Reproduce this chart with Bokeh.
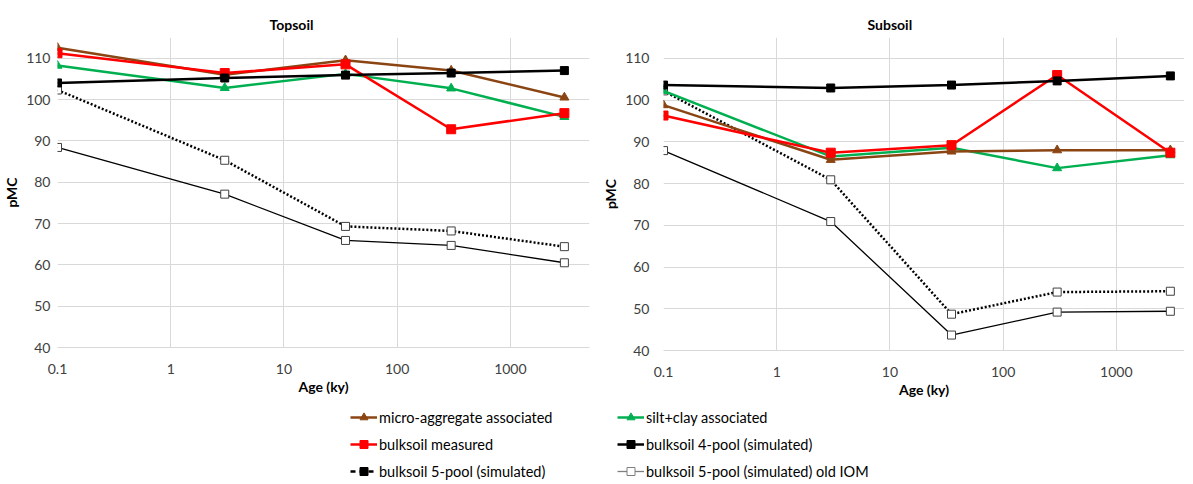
from bokeh.plotting import figure
from bokeh.models import Range1d, FixedTicker, Legend, LegendItem
from bokeh.layouts import column, row
from bokeh.embed import file_html
from bokeh.resources import INLINE

# ---------------- data ----------------
age = [0.1, 3, 35, 300, 3000]

top_micro = [112.5, 106.0, 109.5, 107.0, 100.5]
top_silt = [108.2, 102.8, 106.2, 102.7, 95.8]
top_bulk = [111.2, 106.4, 108.5, 92.8, 96.7]
top_pool4 = [104.0, 105.2, 105.9, 106.4, 107.0]
top_pool5 = [102.3, 85.3, 69.3, 68.2, 64.4]
top_iom = [88.4, 77.1, 65.9, 64.7, 60.5]

sub_micro = [98.8, 85.7, 87.7, 88.0, 88.0]
sub_silt = [102.2, 86.5, 88.6, 83.7, 86.8]
sub_bulk = [96.3, 87.4, 89.2, 106.0, 87.4]
sub_pool4 = [103.6, 102.9, 103.6, 104.6, 105.8]
sub_pool5 = [102.2, 80.9, 48.7, 54.0, 54.2]
sub_iom = [87.9, 70.9, 43.7, 49.2, 49.4]

series_names = [
    "micro-aggregate associated",
    "silt+clay associated",
    "bulksoil measured",
    "bulksoil 4-pool (simulated)",
    "bulksoil 5-pool (simulated)",
    "bulksoil 5-pool (simulated) old IOM",
]

x_ticks = [0.1, 1, 10, 100, 1000]
x_tick_labels = ["0.1", "1", "10", "100", "1000"]
y_ticks = [40, 50, 60, 70, 80, 90, 100, 110]

FONT = "Lato"
BROWN = "#8B4513"
GREEN = "#00B050"
RED = "#FF0000"
GRID = "#D9D9D9"
TXT = "#404040"

styles = {
    "bulksoil 5-pool (simulated) old IOM": dict(color="#000000", width=1.3, dash="solid",
                                                 marker="square", size=8, fill="white", mline="#404040"),
    "bulksoil 5-pool (simulated)": dict(color="#000000", width=2.5, dash="2 2",
                                         marker="square", size=8, fill="white", mline="#404040"),
    "silt+clay associated": dict(color=GREEN, width=2.5, dash="solid",
                                 marker="triangle", size=9, fill=GREEN, mline=GREEN),
    "micro-aggregate associated": dict(color=BROWN, width=2.5, dash="solid",
                                       marker="triangle", size=9, fill=BROWN, mline=BROWN),
    "bulksoil measured": dict(color=RED, width=2.5, dash="solid",
                              marker="square", size=9, fill=RED, mline=RED),
    "bulksoil 4-pool (simulated)": dict(color="#000000", width=2.5, dash="solid",
                                        marker="square", size=8, fill="#000000", mline="#000000"),
}
draw_order = [
    "bulksoil 5-pool (simulated) old IOM",
    "bulksoil 5-pool (simulated)",
    "silt+clay associated",
    "micro-aggregate associated",
    "bulksoil measured",
    "bulksoil 4-pool (simulated)",
]


def make_panel(title, data, b_left, f_width, b_right, b_top, f_height, b_bottom,
               title_offset, x_end, lab_standoff):
    p = figure(x_axis_type="log", x_range=Range1d(0.1, x_end), y_range=Range1d(40, 115),
               frame_width=f_width, frame_height=f_height,
               min_border_left=b_left, min_border_right=b_right,
               min_border_top=b_top, min_border_bottom=b_bottom,
               output_backend="svg", toolbar_location=None)
    p.outline_line_color = None
    p.background_fill_color = "white"
    p.title.text = title
    p.title.align = "left"
    p.title.offset = title_offset
    p.title.text_font = FONT
    p.title.text_font_size = "14px"
    p.title.text_font_style = "bold"
    p.title.text_color = "#000000"

    xa = p.xaxis[0]
    xa.ticker = FixedTicker(ticks=x_ticks, minor_ticks=[])
    xa.major_label_overrides = {t: l for t, l in zip(x_ticks, x_tick_labels)}
    xa.axis_label = "Age (ky)"
    ya = p.yaxis[0]
    ya.ticker = FixedTicker(ticks=y_ticks, minor_ticks=[])
    ya.axis_label = "pMC"
    for ax in (xa, ya):
        ax.major_tick_line_color = None
        ax.minor_tick_line_color = None
        ax.major_tick_out = 0
        ax.major_tick_in = 0
        ax.major_label_text_font = FONT
        ax.major_label_text_font_size = "14px"
        ax.major_label_text_color = TXT
        ax.axis_label_text_font = FONT
        ax.axis_label_text_font_size = "14px"
        ax.axis_label_text_font_style = "bold"
        ax.axis_label_text_color = "#000000"
    xa.axis_line_color = GRID
    ya.axis_line_color = None
    xa.major_label_standoff = 16
    xa.axis_label_standoff = 1
    ya.major_label_standoff = lab_standoff
    ya.axis_label_standoff = 3

    p.xgrid.grid_line_color = GRID
    p.ygrid.grid_line_color = GRID
    p.xgrid.ticker = FixedTicker(ticks=x_ticks)
    p.ygrid.ticker = FixedTicker(ticks=y_ticks)

    for name in draw_order:
        s = styles[name]
        p.line(age, data[name], line_color=s["color"], line_width=s["width"],
               line_dash=s["dash"])
        p.scatter(age, data[name], marker=s["marker"], size=s["size"],
                  fill_color=s["fill"], line_color=s["mline"], line_width=1)
    return p


top_data = {
    "micro-aggregate associated": top_micro,
    "silt+clay associated": top_silt,
    "bulksoil measured": top_bulk,
    "bulksoil 4-pool (simulated)": top_pool4,
    "bulksoil 5-pool (simulated)": top_pool5,
    "bulksoil 5-pool (simulated) old IOM": top_iom,
}
sub_data = {
    "micro-aggregate associated": sub_micro,
    "silt+clay associated": sub_silt,
    "bulksoil measured": sub_bulk,
    "bulksoil 4-pool (simulated)": sub_pool4,
    "bulksoil 5-pool (simulated)": sub_pool5,
    "bulksoil 5-pool (simulated) old IOM": sub_iom,
}

p1 = make_panel("Topsoil", top_data, 50, 532, 10, 37, 310, 53, 212, 5000, 7)
p2 = make_panel("Subsoil", sub_data, 64, 521, 0, 35, 313, 52, 204, 4000, 14)

# ---------------- legend figure ----------------
leg = figure(width=1177, height=84, x_range=Range1d(0, 1), y_range=Range1d(0, 1),
             x_axis_type=None, y_axis_type=None, output_backend="svg",
             toolbar_location=None, min_border=0)
leg.outline_line_color = None
leg.xgrid.visible = False
leg.ygrid.visible = False

legend_styles = {
    "micro-aggregate associated": dict(color=BROWN, width=2.5, dash="solid", marker="triangle",
                                       size=9, fill=BROWN, mline=BROWN),
    "silt+clay associated": dict(color=GREEN, width=2.5, dash="solid", marker="triangle",
                                 size=9, fill=GREEN, mline=GREEN),
    "bulksoil measured": dict(color=RED, width=2.5, dash="solid", marker="square",
                              size=9, fill=RED, mline=RED),
    "bulksoil 4-pool (simulated)": dict(color="#000000", width=2.5, dash="solid", marker="square",
                                        size=8, fill="#000000", mline="#000000"),
    "bulksoil 5-pool (simulated)": dict(color="#000000", width=2.5, dash="5 4", marker="square",
                                        size=8, fill="#000000", mline="#000000"),
    "bulksoil 5-pool (simulated) old IOM": dict(color="#7F7F7F", width=1.3, dash="solid",
                                                marker="square", size=8, fill="white",
                                                mline="#7F7F7F"),
}

items = {}
for name in series_names:
    s = legend_styles[name]
    r1 = leg.line(age, top_data[name], line_color=s["color"], line_width=s["width"],
                  line_dash=s["dash"])
    r2 = leg.scatter(age, top_data[name], marker=s["marker"], size=s["size"],
                     fill_color=s["fill"], line_color=s["mline"], line_width=1)
    items[name] = LegendItem(label=name, renderers=[r1, r2])

col1 = [items[n] for n in series_names[0::2]]
col2 = [items[n] for n in series_names[1::2]]

for its, x in ((col1, 350), (col2, 617)):
    lg = Legend(items=its, location=(x, 3), orientation="vertical",
                glyph_width=27, glyph_height=20, spacing=7, padding=0, margin=0,
                label_standoff=2, label_text_font=FONT, label_text_font_size="14.5px",
                label_text_color="#000000", border_line_color=None,
                background_fill_alpha=0)
    leg.add_layout(lg)

layout = column(row(p1, p2), leg)
open("out.html", "w").write(file_html(layout, INLINE))
